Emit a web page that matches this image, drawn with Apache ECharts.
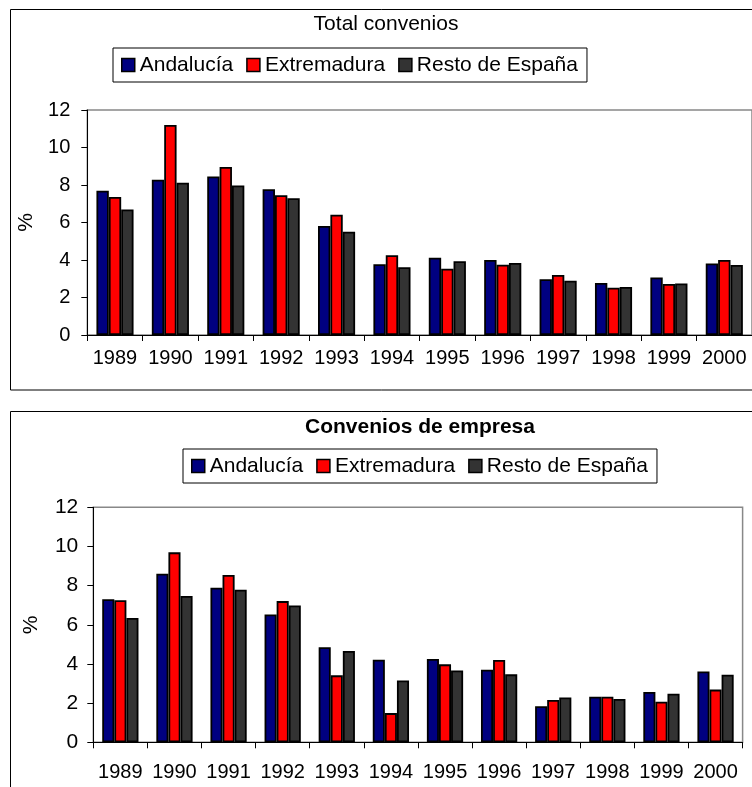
<!DOCTYPE html>
<html>
<head>
<meta charset="utf-8">
<title>Convenios colectivos: incremento salarial pactado</title>
<script src="https://cdn.jsdelivr.net/npm/echarts@6/dist/echarts.min.js"></script>
<style>
  html, body { margin: 0; padding: 0; background: #fff; }
  #chart { width: 752px; height: 787px; }
</style>
</head>
<body>
<div id="chart"></div>
<script>
// Years on the category axis
const years = ['1989', '1990', '1991', '1992', '1993', '1994', '1995', '1996', '1997', '1998', '1999', '2000'];
const seriesNames = ['Andalucía', 'Extremadura', 'Resto de España'];

// Total convenios (%)
const totalAndalucia   = [7.70, 8.28, 8.46, 7.77, 5.81, 3.77, 4.12, 4.00, 2.97, 2.77, 3.07, 3.82];
const totalExtremadura = [7.36, 11.20, 8.96, 7.46, 6.42, 4.25, 3.54, 3.75, 3.20, 2.52, 2.72, 4.00];
const totalResto       = [6.70, 8.12, 7.98, 7.30, 5.51, 3.61, 3.94, 3.84, 2.90, 2.56, 2.75, 3.73];

// Convenios de empresa (%)
const empresaAndalucia   = [7.31, 8.61, 7.89, 6.53, 4.85, 4.22, 4.25, 3.71, 1.84, 2.33, 2.57, 3.62];
const empresaExtremadura = [7.25, 9.70, 8.54, 7.21, 3.42, 1.49, 3.98, 4.20, 2.16, 2.33, 2.07, 2.69];
const empresaResto       = [6.35, 7.47, 7.79, 6.99, 4.66, 3.16, 3.67, 3.47, 2.29, 2.21, 2.48, 3.45];

const colors = ['#000080', '#ff0000', '#333333'];
const FONT = "'Liberation Sans', Arial, Helvetica, sans-serif";

const chart = echarts.init(document.getElementById('chart'), null, { renderer: 'canvas' });

function yAxis(gridIndex, labelSize, labelMargin, nameGap) {
  return {
    type: 'value', gridIndex: gridIndex, min: 0, max: 12, interval: 2,
    name: '%', nameLocation: 'middle', nameGap: nameGap, nameRotate: 90,
    nameTextStyle: { fontFamily: FONT, fontSize: 21, color: '#000' },
    axisLine: { show: true, lineStyle: { color: '#000', width: 1 } },
    axisTick: { show: true, length: 6, lineStyle: { color: '#000', width: 1 } },
    axisLabel: { fontFamily: FONT, fontSize: labelSize, color: '#000', margin: labelMargin },
    splitLine: { show: false }
  };
}

function xAxis(gridIndex, labelMargin) {
  return {
    type: 'category', gridIndex: gridIndex, data: years, boundaryGap: true,
    axisLine: { show: true, lineStyle: { color: '#000', width: 1 } },
    axisTick: { show: true, length: 6, alignWithLabel: false, interval: 0, lineStyle: { color: '#000', width: 1 } },
    axisLabel: { fontFamily: FONT, fontSize: 20, color: '#000', margin: labelMargin, interval: 0 },
    splitLine: { show: false }
  };
}

function barSeries(name, data, idx, axisIndex) {
  return {
    type: 'bar', name: name, data: data,
    xAxisIndex: axisIndex, yAxisIndex: axisIndex,
    barGap: '0%', barCategoryGap: '33%',
    itemStyle: { color: colors[idx], borderColor: '#000', borderWidth: 1.8 },
    emphasis: { disabled: true },
    animation: false
  };
}

function legend(left, top) {
  return {
    data: seriesNames, left: left, top: top, orient: 'horizontal',
    icon: 'rect', itemWidth: 13, itemHeight: 13, itemGap: 13,
    padding: [5, 9, 5, 8],
    borderColor: '#000', borderWidth: 1, backgroundColor: '#fff',
    itemStyle: { borderColor: '#000', borderWidth: 1.5 },
    textStyle: { fontFamily: FONT, fontSize: 21, color: '#000', lineHeight: 24 },
    selectedMode: false
  };
}

const option = {
  backgroundColor: '#fff',
  animation: false,
  color: colors,
  graphic: [
    { type: 'rect', shape: { x: 10.5, y: 9.5, width: 800, height: 380.5 },
      style: { fill: 'none', stroke: '#000', lineWidth: 1 }, z: -10, silent: true },
    { type: 'rect', shape: { x: 10.5, y: 411.5, width: 800, height: 420 },
      style: { fill: 'none', stroke: '#000', lineWidth: 1 }, z: -10, silent: true },
    { type: 'text', x: 386, y: 14,
      style: { text: 'Total convenios', font: '21px ' + FONT, fill: '#000', textAlign: 'center', textVerticalAlign: 'top' } },
    { type: 'text', x: 420, y: 417,
      style: { text: 'Convenios de empresa', font: 'bold 21px ' + FONT, fill: '#000', textAlign: 'center', textVerticalAlign: 'top' } }
  ],
  legend: [legend(113, 48), legend(183, 449)],
  grid: [
    { left: 87.3, top: 110, width: 668, height: 225, show: true, borderColor: '#888', borderWidth: 1.5, backgroundColor: 'transparent' },
    { left: 93.3, top: 507.3, width: 649.3, height: 235, show: true, borderColor: '#888', borderWidth: 1.5, backgroundColor: 'transparent' }
  ],
  xAxis: [xAxis(0, 13), xAxis(1, 20)],
  yAxis: [yAxis(0, 20, 17, 46), yAxis(1, 21, 15, 52)],
  series: [
    barSeries(seriesNames[0], totalAndalucia, 0, 0),
    barSeries(seriesNames[1], totalExtremadura, 1, 0),
    barSeries(seriesNames[2], totalResto, 2, 0),
    barSeries(seriesNames[0], empresaAndalucia, 0, 1),
    barSeries(seriesNames[1], empresaExtremadura, 1, 1),
    barSeries(seriesNames[2], empresaResto, 2, 1)
  ]
};

chart.setOption(option);
</script>
</body>
</html>
